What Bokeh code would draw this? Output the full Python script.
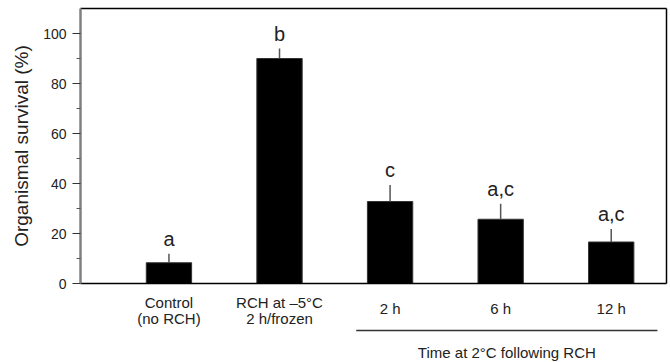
from bokeh.plotting import figure
from bokeh.layouts import column
from bokeh.models import ColumnDataSource, Range1d, LinearAxis, FixedTicker
from bokeh.core.properties import value
from bokeh.embed import file_html
from bokeh.resources import INLINE

# ---- data ----
categories = ["Control\n(no RCH)", "RCH at \u20135\u00b0C\n2 h/frozen", "2 h", "6 h", "12 h"]
positions = [1, 2, 3, 4, 5]
survival = [8.3, 90.0, 32.8, 25.7, 16.6]
errors = [3.6, 4.0, 6.6, 6.2, 5.2]
letters = ["a", "b", "c", "a,c", "a,c"]
group_label = "Time at 2\u00b0C following RCH"
group_span = [2.694, 5.418]
y_ticks = [0, 20, 40, 60, 80, 100]
y_minor = [10, 30, 50, 70, 90]

FONT = "Liberation Sans"
TXT = "#222222"
W = 670
ML, MR = 80, 4

xr = Range1d(0.2, 5.5)
tops = [s + e for s, e in zip(survival, errors)]
src = ColumnDataSource(dict(x=positions, top=survival, etop=tops, letter=letters))

p = figure(width=W, height=291, output_backend="svg", toolbar_location=None,
           x_range=xr, y_range=Range1d(0, 110),
           min_border_left=ML, min_border_right=MR, min_border_top=8, min_border_bottom=8)
p.grid.visible = False
p.outline_line_color = None

# bars
p.vbar(x="x", top="top", bottom=0, width=0.41, source=src,
       fill_color="black", line_color="#333333", line_width=1)
# error bars (upper only)
p.segment(x0="x", y0="top", x1="x", y1="etop", source=src,
          line_color="#555555", line_width=1.5)
# significance letters
p.text(x="x", y="etop", text="letter", source=src, text_align="center",
       text_baseline="bottom", y_offset=-4, text_font=value(FONT),
       text_font_size="20px", text_color=TXT)

xa = p.xaxis[0]
xa.ticker = FixedTicker(ticks=[])
xa.major_label_text_font_size = "0px"
xa.axis_line_color = "black"
xa.axis_line_width = 1.5
xa.major_tick_line_color = None
xa.minor_tick_line_color = None

ya = p.yaxis[0]
ya.ticker = FixedTicker(ticks=y_ticks, minor_ticks=y_minor)
ya.axis_line_color = "#808080"
ya.axis_line_width = 2.5
ya.major_tick_line_color = "#333333"
ya.minor_tick_line_color = "#555555"
ya.major_tick_in = 0
ya.major_tick_out = 8
ya.minor_tick_in = 0
ya.minor_tick_out = 4
ya.major_label_text_font = FONT
ya.major_label_text_font_size = "14px"
ya.major_label_text_color = TXT
ya.major_label_standoff = 6
ya.axis_label = "Organismal survival (%)"
ya.axis_label_text_font = FONT
ya.axis_label_text_font_size = "19px"
ya.axis_label_text_font_style = "normal"
ya.axis_label_text_color = TXT
ya.axis_label_standoff = 8

for loc in ("above", "right"):
    ax = LinearAxis(ticker=FixedTicker(ticks=[]), major_label_text_font_size="0px",
                    axis_line_color="black", axis_line_width=1.5,
                    major_tick_line_color=None, minor_tick_line_color=None)
    p.add_layout(ax, loc)

# ---- label strip below, sharing the x scale ----
p2 = figure(width=W, height=71, output_backend="svg", toolbar_location=None,
            x_range=xr, y_range=Range1d(-31.6, -3.2),
            min_border_left=ML, min_border_right=MR, min_border_top=0, min_border_bottom=0)
p2.axis.visible = False
p2.grid.visible = False
p2.outline_line_color = None

two_line = [(x, c) for x, c in zip(positions, categories) if "\n" in c]
one_line = [(x, c) for x, c in zip(positions, categories) if "\n" not in c]
p2.text(x=[t[0] for t in two_line], y=[-4.3] * len(two_line), text=[t[1] for t in two_line],
        text_align="center", text_baseline="top", text_font=value(FONT),
        text_font_size="15px", text_color=TXT, text_line_height=0.95)
p2.text(x=[t[0] for t in one_line], y=[-10] * len(one_line), text=[t[1] for t in one_line],
        text_align="center", text_baseline="middle", text_font=value(FONT),
        text_font_size="15px", text_color=TXT)
p2.line(x=group_span, y=[-18.8, -18.8], line_color="#333333", line_width=1.5)
p2.text(x=[sum(group_span) / 2], y=[-27.6], text=[group_label], text_align="center",
        text_baseline="middle", text_font=value(FONT), text_font_size="15px", text_color=TXT)

layout = column(p, p2, spacing=0)
open("out.html", "w").write(file_html(layout, INLINE))
